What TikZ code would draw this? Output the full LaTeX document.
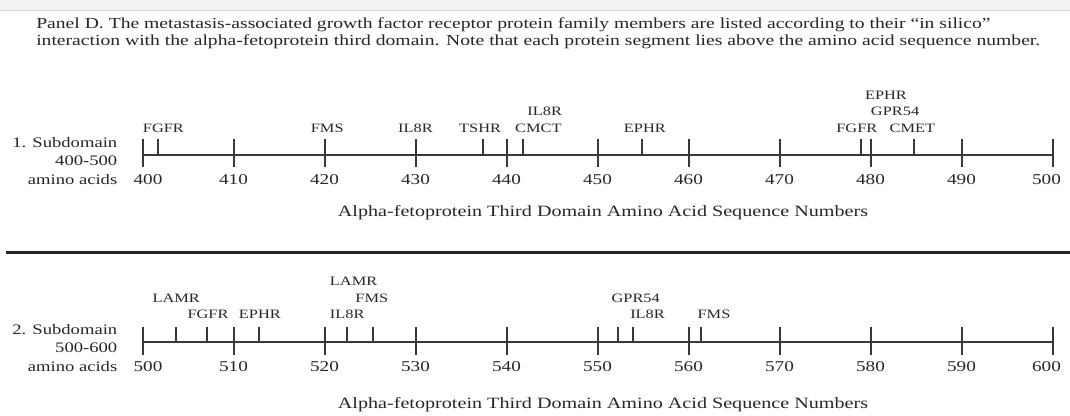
\documentclass[tikz,border=0pt]{standalone}
\usepackage{fontspec}
\setmainfont{Liberation Serif}[FakeStretch=1.28]
\begin{document}
\begin{tikzpicture}[x=0.75pt,y=-0.75pt,
  txt/.style={inner sep=0pt, text=black!85},
  lab/.style={txt, font=\fontsize{9.6}{11}\selectfont, anchor=base},
  num/.style={txt, font=\fontsize{11.25}{13}\selectfont, anchor=base},
  ttl/.style={txt, font=\fontsize{11.8}{13}\selectfont, anchor=base},
  side/.style={txt, font=\fontsize{10.9}{13}\selectfont, anchor=base east},
  captxt/.style={txt, font=\fontsize{11.5}{13}\selectfont, anchor=base west},
  axisline/.style={line width=1.5pt, draw=black!78},
  tickline/.style={line width=1.5pt, draw=black!78},
]
\useasboundingbox (0,0) rectangle (1070,416);
\fill[black!5] (0,0) rectangle (1070,11);
\draw[black!15, line width=0.75pt] (0,11) -- (1070,11);

% caption
\node[captxt] (cap1) at (36,28.5) {Panel D. The metastasis-associated growth factor receptor protein family members are listed according to their “in silico”};
\node[captxt] (cap2) at (36,45.5) {interaction with the alpha-fetoprotein third domain. Note that each protein segment lies above the amino acid sequence number.};

% ---------- axis 1 ----------
\coordinate (a1s) at (142.5,155);
\coordinate (a1e) at (1052.5,155);
\draw[axisline] (a1s) -- (a1e);
\foreach \k in {0,...,10}
  \draw[tickline] ({142.5+\k*91},139.5) -- ({142.5+\k*91},167.5);
\foreach \u in {401.7,437.4,441.8,454.9,479,484.8}
  \draw[tickline] ({142.5+(\u-400)*9.1},139.5) -- ({142.5+(\u-400)*9.1},155);
\node[num] (n1-0) at (148,185) {400};
\foreach \k [evaluate=\k as \n using int(400+10*\k)] in {1,...,9}
  \node[num] (n1-\k) at ({142.5+\k*91},185) {\n};
\node[num] (n1-10) at (1046.5,185) {500};
\foreach \u/\r/\t [count=\i] in {402.3/1/FGFR, 420.3/1/FMS, 430/1/IL8R, 437.1/1/TSHR,
    443.5/1/CMCT, 444.2/2/IL8R, 455.2/1/EPHR, 478.5/1/FGFR, 484.6/1/CMET,
    482.7/2/GPR54, 481.7/3/EPHR}
  \node[lab] (l1-\i) at ({142.5+(\u-400)*9.1},{132.5-(\r-1)*16.5}) {\t};
\node[side] (s1a) at (117.5,147.5) {1. Subdomain};
\node[side] (s1b) at (117.5,166) {400-500};
\node[side] (s1c) at (117.5,185) {amino acids};
\node[ttl] (t1) at (603,217) {Alpha-fetoprotein Third Domain Amino Acid Sequence Numbers};

% separator
\coordinate (sepL) at (6,252.5);
\coordinate (sepR) at (1070,252.5);
\draw[line width=2.4pt, black!85] (sepL) -- (sepR);

% ---------- axis 2 ----------
\coordinate (a2s) at (142.5,342);
\coordinate (a2e) at (1052.5,342);
\draw[axisline] (a2s) -- (a2e);
\foreach \k in {0,...,10}
  \draw[tickline] ({142.5+\k*91},327) -- ({142.5+\k*91},355);
\foreach \u in {503.7,507.07,512.8,522.5,525.3,552.3,553.9,561.35}
  \draw[tickline] ({142.5+(\u-500)*9.1},327) -- ({142.5+(\u-500)*9.1},342);
\node[num] (n2-0) at (148,371.7) {500};
\foreach \k [evaluate=\k as \n using int(500+10*\k)] in {1,...,9}
  \node[num] (n2-\k) at ({142.5+\k*91},371.7) {\n};
\node[num] (n2-10) at (1046.5,371.7) {600};
\foreach \u/\r/\t [count=\i] in {503.7/2/LAMR, 507.2/1/FGFR, 512.9/1/EPHR, 522.5/1/IL8R,
    525.2/2/FMS, 523.2/3/LAMR, 554.2/2/GPR54, 555.5/1/IL8R, 562.8/1/FMS}
  \node[lab] (l2-\i) at ({142.5+(\u-500)*9.1},{319-(\r-1)*16.5}) {\t};
\node[side] (s2a) at (117.5,334.2) {2. Subdomain};
\node[side] (s2b) at (117.5,353) {500-600};
\node[side] (s2c) at (117.5,371.7) {amino acids};
\node[ttl] (t2) at (603,408) {Alpha-fetoprotein Third Domain Amino Acid Sequence Numbers};
\end{tikzpicture}
\end{document}
